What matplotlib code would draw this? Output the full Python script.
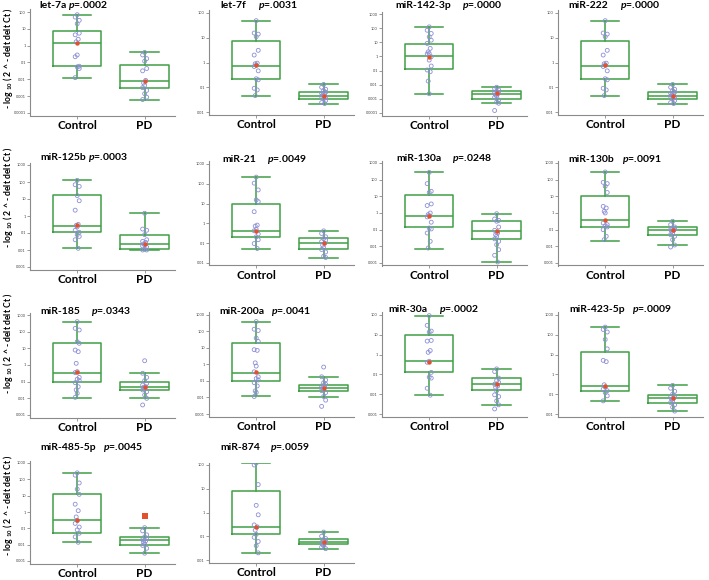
import numpy as np
import matplotlib
matplotlib.use("Agg")
import matplotlib.pyplot as plt

plt.rcParams['font.family'] = ['Lato', 'DejaVu Sans']
plt.rcParams['mathtext.fontset'] = 'custom'
plt.rcParams['mathtext.bf'] = 'Lato:bold'
plt.rcParams['mathtext.bfit'] = 'Lato:bold:italic'

# ---- data ----
names = ['let-7a', 'let-7f', 'miR-142-3p', 'miR-222',
         'miR-125b', 'miR-21', 'miR-130a', 'miR-130b',
         'miR-185', 'miR-200a', 'miR-30a', 'miR-423-5p',
         'miR-485-5p', 'miR-874']
pvals = ['.0002', '.0031', '.0000', '.0000',
         '.0003', '.0049', '.0248', '.0091',
         '.0343', '.0041', '.0002', '.0009',
         '.0045', '.0059']

# box stats: (whisker low, q1, median, q3, whisker high)
ctrl_box = [(0.0126, 0.058, 1.4, 7.6, 69), (0.046, 0.21, 0.71, 7.3, 49),
            (0.0023, 0.13, 1.0, 7.0, 123), (0.046, 0.21, 0.71, 7.3, 49),
            (0.0126, 0.115, 0.25, 18, 126), (0.05, 0.21, 0.41, 9.3, 210),
            (0.0072, 0.14, 0.66, 11.5, 275), (0.022, 0.145, 0.36, 11, 290),
            (0.011, 0.1, 0.33, 20, 400), (0.0115, 0.095, 0.32, 20, 400),
            (0.0089, 0.13, 0.46, 10, 93), (0.046, 0.15, 0.25, 13, 245),
            (0.014, 0.05, 0.32, 13, 250), (0.02, 0.12, 0.25, 8, 120)]
pd_box = [(0.00063, 0.0032, 0.0076, 0.069, 0.4), (0.022, 0.035, 0.046, 0.063, 0.13),
          (0.00049, 0.00105, 0.0022, 0.0038, 0.0065), (0.022, 0.035, 0.046, 0.063, 0.13),
          (0.01, 0.0115, 0.023, 0.08, 1.45), (0.017, 0.05, 0.1, 0.18, 0.42),
          (0.00115, 0.028, 0.079, 0.35, 0.91), (0.012, 0.046, 0.09, 0.14, 0.32),
          (0.01, 0.033, 0.046, 0.095, 0.33), (0.01, 0.025, 0.04, 0.057, 0.18),
          (0.0027, 0.017, 0.031, 0.063, 0.19), (0.014, 0.038, 0.063, 0.093, 0.28),
          (0.003, 0.0095, 0.018, 0.03, 0.11), (0.03, 0.045, 0.06, 0.08, 0.15)]

ctrl_pts = [
    [69, 50, 32, 20, 5.5, 4.4, 2.4, 1.7, 0.28, 0.22, 0.06, 0.055, 0.044, 0.0126],
    [49, 15.5, 14, 11, 3.1, 2.0, 0.94, 0.89, 0.78, 0.69, 0.46, 0.22, 0.2, 0.091, 0.078, 0.046],
    [123, 71, 42, 24, 14, 8.3, 3.7, 2.1, 1.6, 1.5, 0.95, 0.55, 0.21, 0.11, 0.083, 0.018, 0.0023],
    [49, 15.5, 14, 11, 3.1, 2.0, 0.94, 0.89, 0.78, 0.69, 0.46, 0.22, 0.2, 0.091, 0.078, 0.046],
    [126, 69, 55, 16, 7.9, 2.2, 0.32, 0.28, 0.23, 0.145, 0.11, 0.079, 0.063, 0.04, 0.0126],
    [218, 108, 49, 15.4, 12.6, 3.9, 0.82, 0.73, 0.5, 0.42, 0.29, 0.21, 0.15, 0.096, 0.054],
    [275, 58, 20, 17, 3.5, 2.8, 1.0, 0.8, 0.69, 0.58, 0.28, 0.126, 0.11, 0.063, 0.02, 0.0079],
    [290, 69, 58, 40, 17, 2.5, 2.0, 1.26, 1.0, 0.25, 0.2, 0.17, 0.145, 0.1, 0.04, 0.025],
    [400, 158, 126, 25, 20, 7.9, 6.3, 1.26, 0.4, 0.35, 0.18, 0.14, 0.115, 0.087, 0.05, 0.032, 0.02, 0.0115],
    [400, 138, 115, 40, 25, 7.9, 7.2, 1.26, 0.8, 0.36, 0.18, 0.14, 0.115, 0.079, 0.05, 0.025, 0.02, 0.0115],
    [93, 30, 15.4, 13.7, 5.2, 4.8, 1.6, 1.3, 0.46, 0.41, 0.126, 0.073, 0.065, 0.02, 0.0089],
    [245, 186, 138, 58, 19.5, 5.1, 4.4, 0.3, 0.23, 0.18, 0.15, 0.12, 0.083, 0.046],
    [250, 180, 60, 25, 12, 3.0, 1.2, 0.5, 0.3, 0.2, 0.12, 0.08, 0.05, 0.03, 0.014],
    [120, 100, 15, 2.0, 0.8, 0.3, 0.25, 0.18, 0.12, 0.09, 0.06, 0.04, 0.02],
]
pd_pts = [
    [0.4, 0.28, 0.17, 0.12, 0.044, 0.032, 0.0087, 0.006, 0.0044, 0.0032, 0.0022, 0.0014, 0.00087, 0.00063],
    [0.13, 0.1, 0.083, 0.073, 0.063, 0.057, 0.05, 0.048, 0.045, 0.042, 0.038, 0.034, 0.029, 0.024, 0.022],
    [0.0066, 0.0053, 0.0043, 0.0035, 0.0028, 0.0025, 0.0022, 0.0019, 0.0016, 0.0013, 0.00084, 0.0006, 0.00049, 0.00015],
    [0.13, 0.1, 0.083, 0.073, 0.063, 0.057, 0.05, 0.048, 0.045, 0.042, 0.038, 0.034, 0.029, 0.024, 0.022],
    [1.45, 0.17, 0.145, 0.08, 0.04, 0.032, 0.028, 0.023, 0.02, 0.017, 0.0145, 0.011, 0.01, 0.01],
    [0.42, 0.31, 0.21, 0.17, 0.14, 0.12, 0.1, 0.079, 0.06, 0.048, 0.036, 0.022, 0.019],
    [0.91, 0.44, 0.36, 0.32, 0.145, 0.091, 0.063, 0.05, 0.04, 0.028, 0.02, 0.0126, 0.0063, 0.0029, 0.00115],
    [0.32, 0.2, 0.145, 0.126, 0.11, 0.1, 0.091, 0.079, 0.063, 0.05, 0.04, 0.025, 0.012, 0.0091],
    [1.8, 0.32, 0.18, 0.115, 0.079, 0.063, 0.05, 0.046, 0.04, 0.032, 0.025, 0.016, 0.01, 0.004],
    [0.7, 0.18, 0.115, 0.079, 0.063, 0.05, 0.044, 0.038, 0.032, 0.026, 0.02, 0.0115, 0.0069, 0.0029],
    [0.19, 0.14, 0.065, 0.049, 0.039, 0.032, 0.026, 0.022, 0.015, 0.0093, 0.0076, 0.0046, 0.0029, 0.0018],
    [0.28, 0.2, 0.14, 0.1, 0.083, 0.07, 0.063, 0.056, 0.048, 0.038, 0.029, 0.022, 0.014],
    [0.11, 0.07, 0.04, 0.03, 0.025, 0.02, 0.017, 0.014, 0.011, 0.009, 0.006, 0.003],
    [0.15, 0.1, 0.08, 0.07, 0.06, 0.055, 0.05, 0.045, 0.04, 0.035, 0.03],
]
ctrl_red = [1.5, 0.76, 0.95, 0.76, 0.28, 0.41, 0.69, 0.36, 0.38, 0.35, 0.44, 0.27, 0.32, 0.25]
pd_red = [0.0076, 0.046, 0.0025, 0.046, 0.023, 0.1, 0.079, 0.093, 0.05, 0.04, 0.032, 0.063, 0.6, 0.06]
pd_red_marker = ['o'] * 12 + ['s', 'o']

tick_hi = [2, 2, 3, 2, 3, 3, 3, 3, 3, 3, 2, 3, 3, 2]      # exponent of top tick
tick_lo = [-4, -2, -4, -2, -3, -2, -3, -3, -3, -3, -3, -2, -3, -2]

groups = ['Control', 'PD']

# ---- layout in pixels ----
W, H = 709, 580
col_left = [30, 209, 382, 558]
ax_w = 145
hi_px = [12, 13, 14, 13, 165, 164, 163, 163, 315, 315, 315, 315, 463, 465]
lo_px = [113, 112, 113, 112, 267, 263, 263, 263, 415, 414, 414, 414, 561, 560]
title_x = [(39, 68), (220, 258), (395, 462), (568, 620),
           (40, 88), (222, 267), (396, 452), (568, 622),
           (40, 91), (219, 271), (388, 439), (569, 632),
           (40, 103), (220, 270)]
title_y = [6, 6, 6, 6, 158, 160, 159, 160, 311, 311, 310, 310, 448, 448]
ylabel_y = [58, 197, 343, 505]

green = '#3f9f45'
blue = '#8c8fd6'
red = '#e2502e'
grey = '#8a8a8a'

fig = plt.figure(figsize=(W / 100, H / 100), dpi=100)

offs = [0, -1, 1, 0, 1, -1, 0.5, -0.5]

for i in range(len(names)):
    row, col = divmod(i, 4)
    x0 = col_left[col]
    pad = 2.5
    per_dec = (lo_px[i] - hi_px[i]) / (tick_hi[i] - tick_lo[i])
    top_px = hi_px[i] - pad
    bot_px = lo_px[i] + pad
    ax = fig.add_axes([x0 / W, 1 - bot_px / H, ax_w / W, (bot_px - top_px) / H])
    ax.set_yscale('log')
    ax.set_ylim(10 ** (tick_lo[i] - pad / per_dec), 10 ** (tick_hi[i] + pad / per_dec))
    ax.set_xlim(0.30, 2.45)

    stats = []
    for b in (ctrl_box[i], pd_box[i]):
        stats.append(dict(whislo=b[0], q1=b[1], med=b[2], q3=b[3], whishi=b[4], fliers=[]))
    lp = dict(color=green, linewidth=1.1)
    ax.bxp(stats, positions=[1, 2], widths=0.72, capwidths=0.42, showfliers=False,
           boxprops=lp, whiskerprops=lp, capprops=lp, medianprops=lp, manage_ticks=False)

    for pos, pts in ((1, ctrl_pts[i]), (2, pd_pts[i])):
        xs = [pos + 0.03 * offs[k % len(offs)] for k in range(len(pts))]
        ax.scatter(xs, pts, s=8, facecolors='none', edgecolors=blue, linewidths=0.6, zorder=3)
    ax.scatter([1], [ctrl_red[i]], s=10, color=red, marker='o', zorder=4, linewidths=0)
    ax.scatter([2], [pd_red[i]], s=14 if pd_red_marker[i] == 's' else 10, color=red,
               marker=pd_red_marker[i], zorder=4, linewidths=0)

    ticks = [10.0 ** e for e in range(tick_lo[i], tick_hi[i] + 1)]
    labels = [str(10 ** e) if e >= 0 else '0.' + '0' * (-e - 1) + '1'
              for e in range(tick_lo[i], tick_hi[i] + 1)]
    ax.set_yticks(ticks)
    ax.set_yticklabels(labels)
    ax.yaxis.set_minor_locator(matplotlib.ticker.NullLocator())
    ax.tick_params(axis='y', labelsize=2.8, length=2, width=0.6, color=grey, pad=1, labelcolor='#444444')
    ax.set_xticks([1, 2])
    ax.set_xticklabels(groups, fontsize=8.5, fontweight='bold')
    ax.tick_params(axis='x', length=2, width=0.6, color=grey, pad=1)
    for s in ('top', 'right'):
        ax.spines[s].set_visible(False)
    for s in ('left', 'bottom'):
        ax.spines[s].set_color(grey)
        ax.spines[s].set_linewidth(0.8)
    ax.patch.set_alpha(0)

    tx1, tx2 = title_x[i]
    fig.text(tx1 / W, 1 - title_y[i] / H, names[i], fontsize=7.5, fontweight='bold', va='center')
    fig.text(tx2 / W, 1 - title_y[i] / H, r'$\mathbfit{p}$=' + pvals[i], fontsize=7.5,
             fontweight='bold', va='center')

for yc in ylabel_y:
    fig.text(8 / W, 1 - yc / H, r'- log $_{\mathbf{10}}$ ( 2 ^ - delt delt Ct )', rotation=90,
             fontsize=6.2, fontweight='bold', ha='center', va='center')

fig.savefig('out.png', dpi=100)
